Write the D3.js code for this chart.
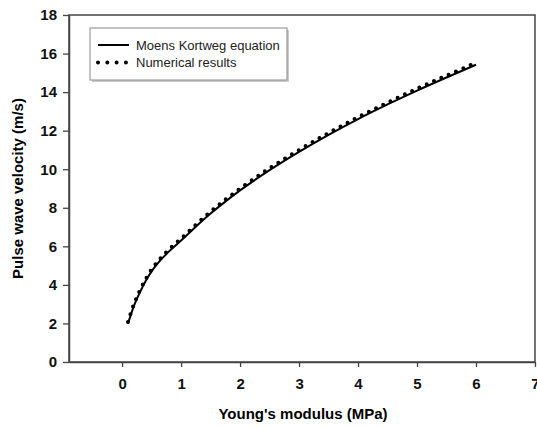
<!DOCTYPE html>
<html>
<head>
<meta charset="utf-8">
<script src="https://cdn.jsdelivr.net/npm/d3@7"></script>
<style>
  body { margin: 0; background: #fff; }
  svg { font-family: "Liberation Sans", Arial, sans-serif; }
  .tick text { font-weight: bold; font-size: 15px; fill: #111; }
</style>
</head>
<body>
<svg id="chart" width="537" height="428"></svg>
<script>
// modulus values (MPa)
var modulus = [0.1, 0.2, 0.3, 0.4, 0.5, 0.6, 0.8, 1, 1.25, 1.5, 1.75, 2, 2.5, 3, 3.5, 4, 4.5, 5, 5.5, 6];
// Moens Kortweg equation (m/s)
var moensKortweg = [2.0, 2.9, 3.6, 4.2, 4.7, 5.1, 5.75, 6.3, 7.02, 7.7, 8.32, 8.9, 9.95, 10.9, 11.78, 12.6, 13.36, 14.08, 14.76, 15.42];
// Numerical results (m/s)
var numerical = [2.08, 3.0, 3.7, 4.3, 4.8, 5.2, 5.85, 6.4, 7.12, 7.8, 8.42, 9.0, 10.05, 11.0, 11.88, 12.7, 13.46, 14.18, 14.86, 15.52];
var xTicks = [0, 1, 2, 3, 4, 5, 6, 7];
var yTicks = [0, 2, 4, 6, 8, 10, 12, 14, 16, 18];
var legendLabels = ["Moens Kortweg equation", "Numerical results"];

var svg = d3.select("#chart");
var m = {left: 69, right: 535, top: 15, bottom: 362};

var x = d3.scaleLinear().domain([-0.9, 7]).range([m.left, m.right]);
var y = d3.scaleLinear().domain([0, 18]).range([m.bottom, m.top]);

// frame
svg.append("rect")
    .attr("x", m.left).attr("y", m.top)
    .attr("width", m.right - m.left).attr("height", m.bottom - m.top)
    .attr("fill", "none").attr("stroke", "#444").attr("stroke-width", 1.5);

var xAxis = svg.append("g")
    .attr("transform", "translate(0," + m.bottom + ")")
    .call(d3.axisBottom(x).tickValues(xTicks).tickSize(5).tickSizeOuter(0).tickPadding(11).tickFormat(d3.format("d")));
var yAxis = svg.append("g")
    .attr("transform", "translate(" + m.left + ",0)")
    .call(d3.axisLeft(y).tickValues(yTicks).tickSize(6).tickSizeOuter(0).tickPadding(6).tickFormat(d3.format("d")));
[xAxis, yAxis].forEach(function(a) {
    a.select(".domain").attr("stroke", "#444").attr("stroke-width", 1.5);
    a.selectAll(".tick line").attr("stroke", "#444").attr("stroke-width", 1.3);
});

var line = d3.line()
    .curve(d3.curveMonotoneX)
    .x(function(d) { return x(d[0]); })
    .y(function(d) { return y(d[1]); });

svg.append("path")
    .datum(modulus.map(function(v, i) { return [v, moensKortweg[i]]; }))
    .attr("d", line)
    .attr("fill", "none").attr("stroke", "#000").attr("stroke-width", 2);

svg.append("path")
    .datum(modulus.map(function(v, i) { return [v, numerical[i]]; }))
    .attr("d", line)
    .attr("fill", "none").attr("stroke", "#000").attr("stroke-width", 4)
    .attr("stroke-linecap", "round").attr("stroke-dasharray", "0,8");

// axis titles
svg.append("text")
    .attr("x", (m.left + m.right) / 2 + 1).attr("y", 419)
    .attr("text-anchor", "middle")
    .attr("font-weight", "bold").attr("font-size", 15)
    .text("Young's modulus (MPa)");
svg.append("text")
    .attr("transform", "translate(23," + ((m.top + m.bottom) / 2) + ")rotate(-90)")
    .attr("text-anchor", "middle")
    .attr("font-weight", "bold").attr("font-size", 15)
    .text("Pulse wave velocity (m/s)");

// legend
var legend = svg.append("g");
legend.append("rect")
    .attr("x", 92).attr("y", 30).attr("width", 197).attr("height", 52)
    .attr("fill", "#ccc");
legend.append("rect")
    .attr("x", 90).attr("y", 28).attr("width", 197).attr("height", 52)
    .attr("fill", "#fff").attr("stroke", "#888").attr("stroke-width", 1);
legendLabels.forEach(function(lbl, i) {
    var yy = 45 + i * 17.5;
    var s = legend.append("line")
        .attr("x1", 98).attr("x2", i ? 126 : 129)
        .attr("y1", yy).attr("y2", yy)
        .attr("stroke", "#000");
    if (i) s.attr("stroke-width", 4).attr("stroke-linecap", "round").attr("stroke-dasharray", "0,9.3");
    else s.attr("stroke-width", 2);
    legend.append("text")
        .attr("x", 136).attr("y", yy + 4.5)
        .attr("font-size", 13).attr("fill", "#222")
        .text(lbl);
});
</script>
</body>
</html>
